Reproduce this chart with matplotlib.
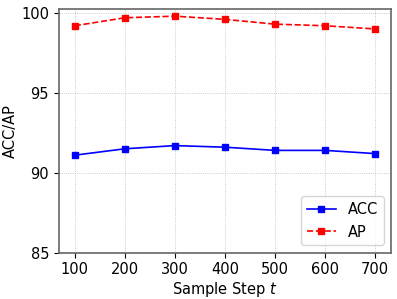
import matplotlib
matplotlib.use("Agg")
import matplotlib.pyplot as plt

steps = [100, 200, 300, 400, 500, 600, 700]
acc = [91.1, 91.5, 91.7, 91.6, 91.4, 91.4, 91.2]
ap = [99.2, 99.7, 99.8, 99.6, 99.3, 99.2, 99.0]

fig, ax = plt.subplots(figsize=(3.97, 2.99), dpi=100)
ax.plot(steps, acc, "-", color="blue", marker="s", ms=4.5, lw=1.2, label="ACC")
ax.plot(steps, ap, "--", color="red", marker="s", ms=4.5, lw=1.2, label="AP")
ax.set_xticks(steps)
ax.set_yticks([85, 90, 95, 100])
ax.set_ylim(85, 100.25)
ax.set_xlim(68, 732)
ax.tick_params(labelsize=10.5)
ax.set_xlabel("Sample Step $t$", fontsize=10.5, labelpad=2)
ax.set_ylabel("ACC/AP", fontsize=10.5, labelpad=2)
ax.grid(ls=":", lw=0.6, color="#bbbbbb")
for s in ax.spines.values():
    s.set_color("#666666"); s.set_linewidth(1.2)
ax.legend(loc="lower right", fontsize=10.5)
fig.subplots_adjust(left=0.148, right=0.985, top=0.97, bottom=0.155)
fig.savefig("out.png")
